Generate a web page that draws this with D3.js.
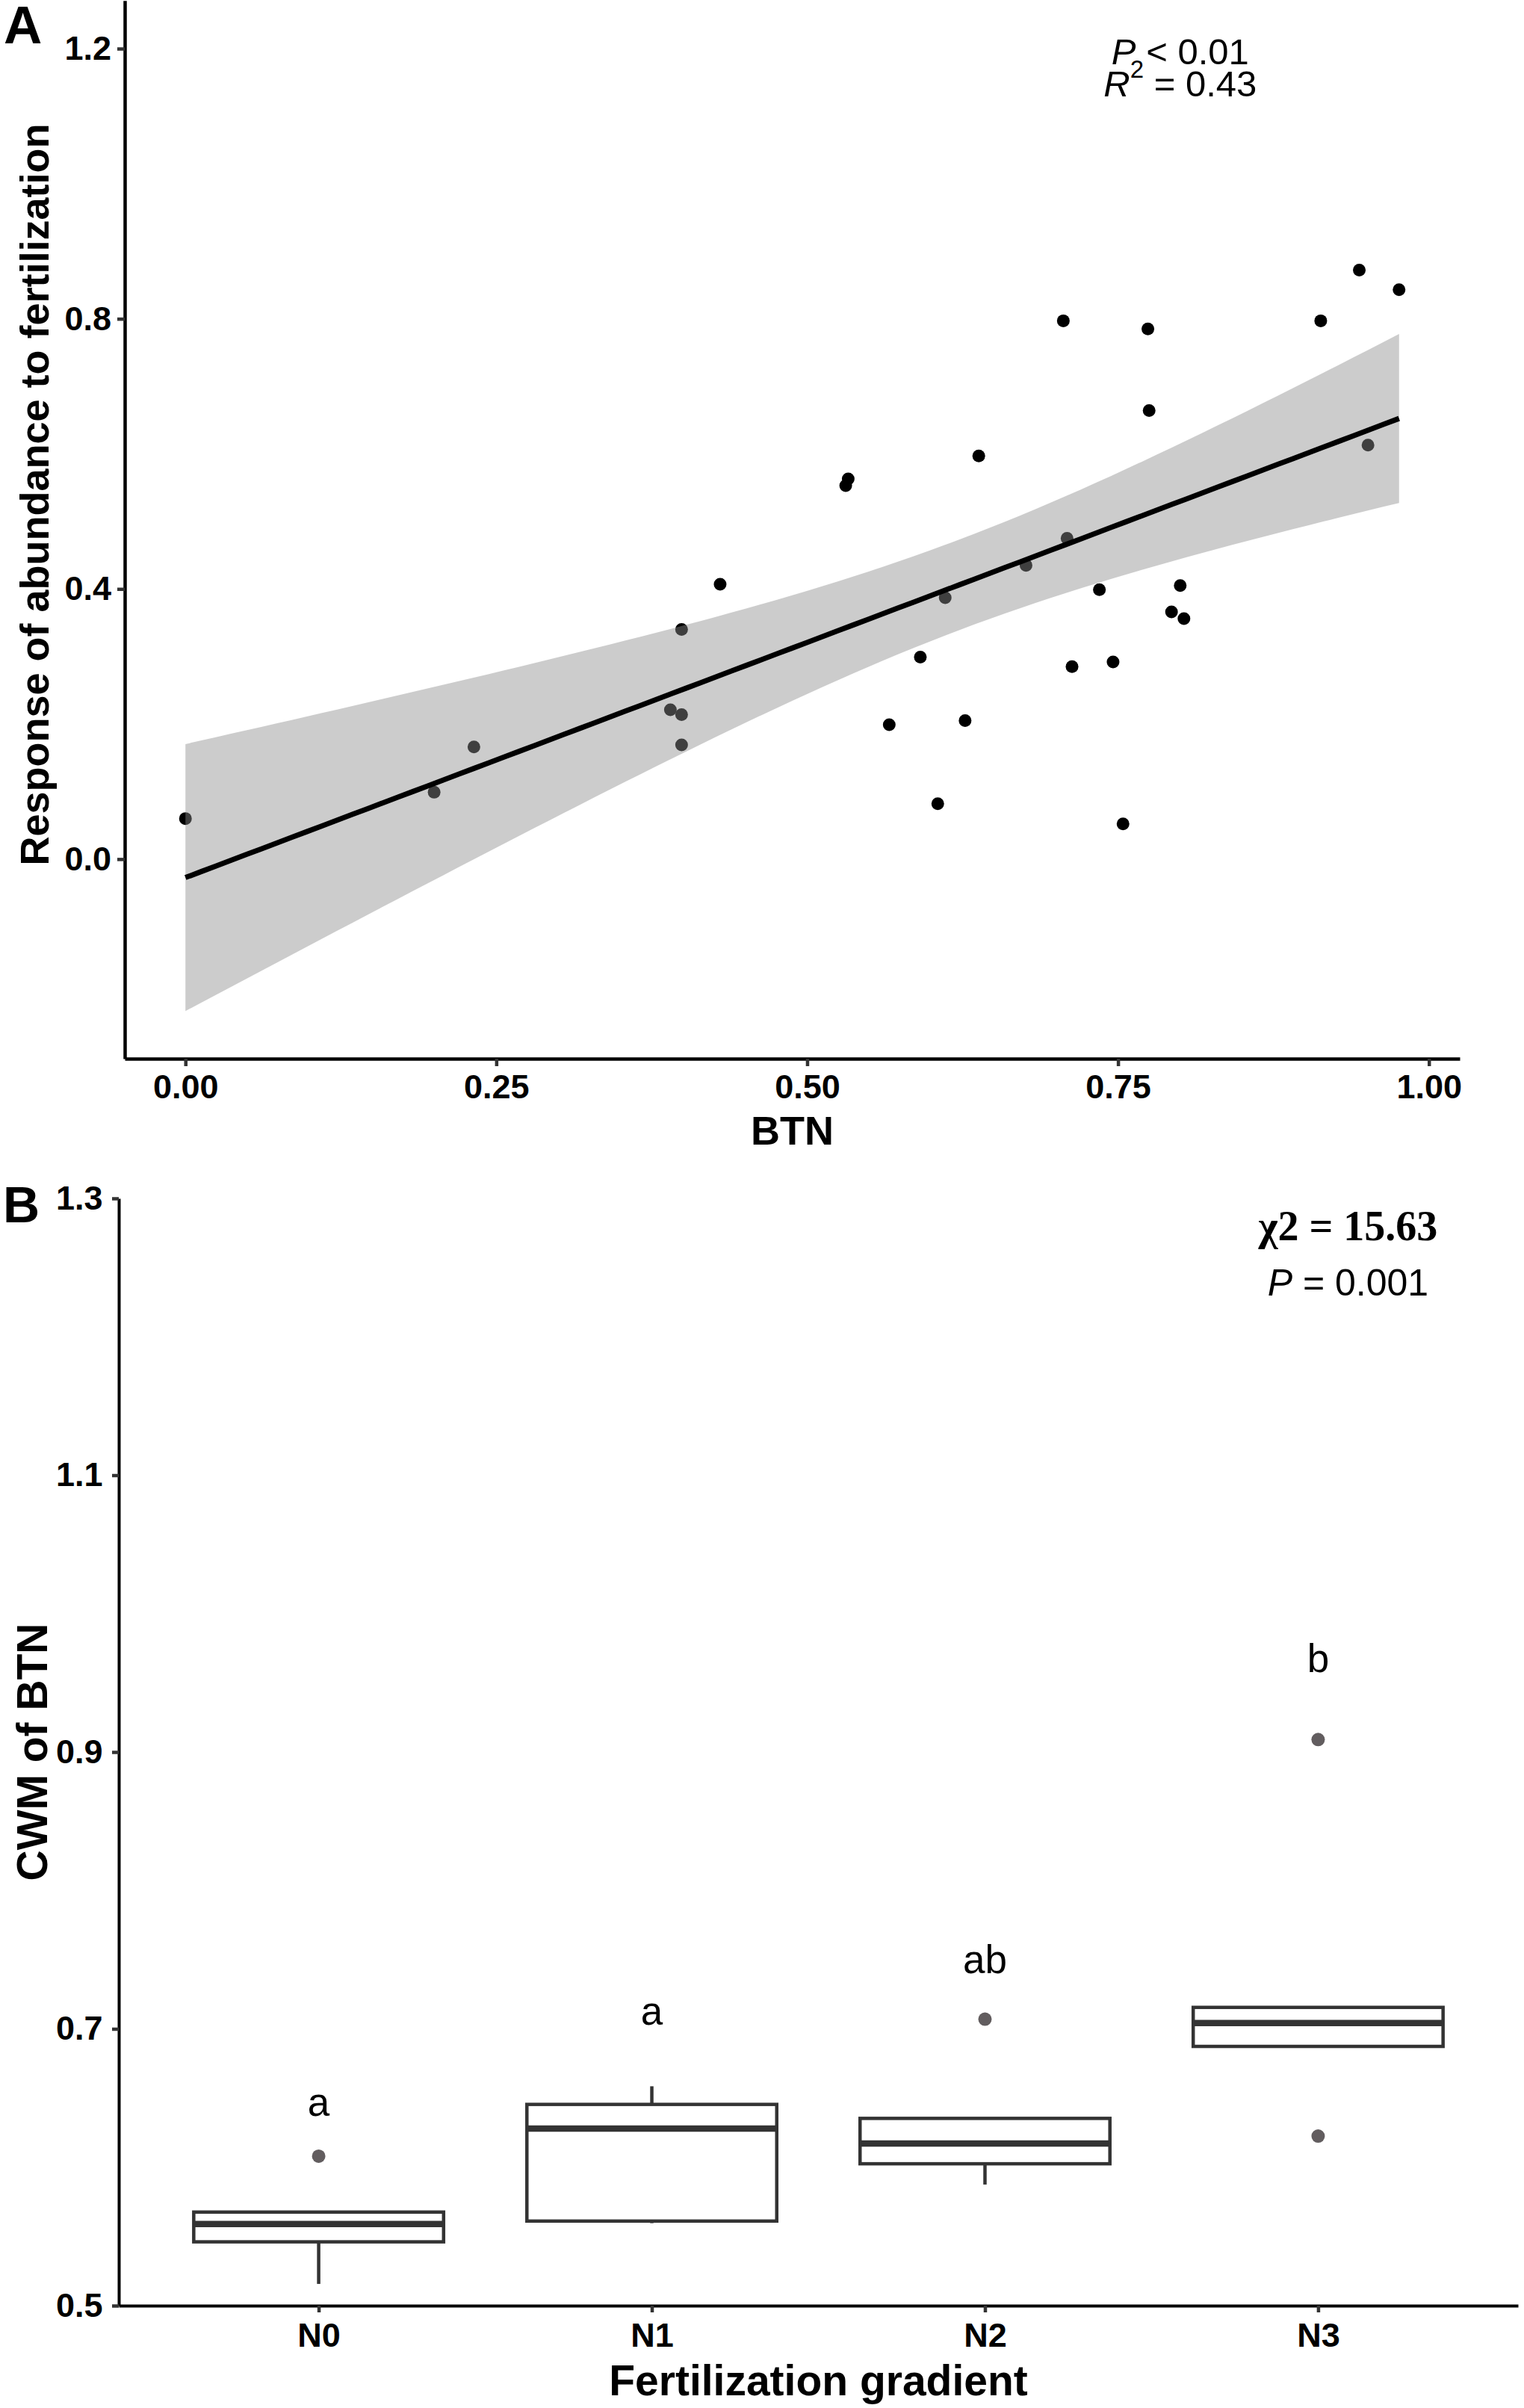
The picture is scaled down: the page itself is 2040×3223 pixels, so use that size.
<!DOCTYPE html>
<html>
<head>
<meta charset="utf-8">
<script src="https://cdn.jsdelivr.net/npm/d3@7"></script>
<style>
  html, body { margin: 0; padding: 0; background: #ffffff; }
  svg { display: block; }
</style>
</head>
<body>
<svg id="chart" width="2040" height="3223"></svg>
<script>
// ---------------- Panel A data ----------------
const btn = [0.000, 0.200, 0.232, 0.390, 0.399, 0.399, 0.399, 0.430,
             0.531, 0.533, 0.566, 0.591, 0.605, 0.611, 0.627, 0.638,
             0.676, 0.706, 0.709, 0.713, 0.735, 0.746, 0.754, 0.774,
             0.775, 0.793, 0.800, 0.803, 0.913, 0.944, 0.951, 0.976];
const response = [0.060, 0.099, 0.166, 0.221, 0.214, 0.169, 0.340, 0.407,
                  0.553, 0.563, 0.199, 0.299, 0.082, 0.387, 0.205, 0.597,
                  0.435, 0.797, 0.475, 0.285, 0.399, 0.292, 0.052, 0.785,
                  0.664, 0.366, 0.405, 0.356, 0.797, 0.872, 0.613, 0.843];
const xTicksA = [0, 0.25, 0.5, 0.75, 1.0];
const yTicksA = [0.0, 0.4, 0.8, 1.2];
const statsA = { p: "< 0.01", r2: "0.43", x: 0.8, y: 1.2 };

// ---------------- Panel B data ----------------
const groups = ["N0", "N1", "N2", "N3"];
const whiskerLow  = [0.5157, 0.5596, 0.5875, 0.6873];
const q1          = [0.5461, 0.5611, 0.6025, 0.6873];
const median      = [0.5590, 0.6279, 0.6171, 0.7042];
const q3          = [0.5676, 0.6454, 0.6353, 0.7155];
const whiskerHigh = [0.5676, 0.6585, 0.6353, 0.7155];
const outliers    = [[0.608], [], [0.707], [0.6225, 0.909]];
const letters     = ["a", "a", "ab", "b"];
const letterY     = [0.637, 0.703, 0.740, 0.958];
const yTicksB = [0.5, 0.7, 0.9, 1.1, 1.3];
const statsB = { chi: "15.63", p: "0.001" };

const svg = d3.select("#chart");
svg.append("rect").attr("width", 2040).attr("height", 3223).attr("fill", "#ffffff");
const SANS = "'Liberation Sans', Arial, Helvetica, sans-serif";
const SERIF = "'Liberation Serif', 'Times New Roman', serif";

// ================= Panel A =================
const xA = d3.scaleLinear().domain([-0.0488, 1.0248]).range([167, 1954]);
const yA = d3.scaleLinear().domain([-0.2955, 1.2712]).range([1417, 0.7]);

// linear regression with 95% CI (as ggplot geom_smooth(method="lm"))
const n = btn.length;
const mx = d3.mean(btn), my = d3.mean(response);
let sxx = 0, sxy = 0;
for (let i = 0; i < n; i++) { sxx += (btn[i]-mx)**2; sxy += (btn[i]-mx)*(response[i]-my); }
const slope = sxy / sxx, intercept = my - slope * mx;
let sse = 0;
for (let i = 0; i < n; i++) { sse += (response[i] - (intercept + slope*btn[i]))**2; }
const s = Math.sqrt(sse / (n - 2));
const tq = 2.0423; // qt(0.975, 30)
const [xmin, xmax] = d3.extent(btn);
const band = d3.range(0, 81).map(k => {
  const xv = xmin + (xmax - xmin) * k / 80;
  const fit = intercept + slope * xv;
  const se = s * Math.sqrt(1/n + (xv-mx)**2 / sxx);
  return { x: xv, fit, lo: fit - tq*se, hi: fit + tq*se };
});

const gA = svg.append("g");
// points
gA.selectAll("circle.pt").data(btn.map((b, i) => [b, response[i]])).join("circle")
  .attr("class", "pt")
  .attr("cx", d => xA(d[0])).attr("cy", d => yA(d[1])).attr("r", 8.5)
  .attr("fill", "#000000");
// ribbon
gA.append("path").datum(band)
  .attr("d", d3.area().x(d => xA(d.x)).y0(d => yA(d.lo)).y1(d => yA(d.hi)))
  .attr("fill", "rgb(141,141,141)").attr("fill-opacity", 0.447);
// fitted line
gA.append("path").datum(band)
  .attr("d", d3.line().x(d => xA(d.x)).y(d => yA(d.fit)))
  .attr("fill", "none").attr("stroke", "#000000").attr("stroke-width", 7);

// axes A
const axA_x = gA.append("g").attr("transform", "translate(0,1417)")
  .call(d3.axisBottom(xA).tickValues(xTicksA).tickFormat(d3.format(".2f")).tickSize(10).tickPadding(11).tickSizeOuter(0));
const axA_y = gA.append("g").attr("transform", "translate(167,0)")
  .call(d3.axisLeft(yA).tickValues(yTicksA).tickFormat(d3.format(".1f")).tickSize(10).tickPadding(8).tickSizeOuter(0));
[axA_x, axA_y].forEach(ax => {
  ax.select(".domain").attr("stroke", "#000000").attr("stroke-width", 4.5);
  ax.selectAll(".tick line").attr("stroke", "#333333").attr("stroke-width", 4.5);
  ax.selectAll(".tick text").attr("fill", "#000000").attr("font-family", SANS)
    .attr("font-weight", "bold").attr("font-size", 45);
});

// annotation A
const ax0 = xA(statsA.x), ay0 = yA(statsA.y);
const t1 = gA.append("text").attr("x", ax0).attr("y", ay0 + 21).attr("text-anchor", "middle")
  .attr("font-family", SANS).attr("font-size", 49).attr("fill", "#000");
t1.append("tspan").attr("font-style", "italic").text("P");
t1.append("tspan").text(" " + statsA.p);
const t2 = gA.append("text").attr("x", ax0).attr("y", ay0 + 64).attr("text-anchor", "middle")
  .attr("font-family", SANS).attr("font-size", 49).attr("fill", "#000");
t2.append("tspan").attr("font-style", "italic").text("R");
t2.append("tspan").attr("font-size", 33).attr("dy", -25).text("2");
t2.append("tspan").attr("dy", 25).text(" = " + statsA.r2);

// titles A
svg.append("text").attr("x", 5).attr("y", 58).attr("font-family", SANS).attr("font-weight", "bold")
  .attr("font-size", 71).attr("fill", "#000").text("A");
svg.append("text").attr("x", (167 + 1954) / 2).attr("y", 1532).attr("text-anchor", "middle")
  .attr("font-family", SANS).attr("font-weight", "bold").attr("font-size", 54).attr("fill", "#000").text("BTN");
svg.append("text").attr("transform", "translate(65,662) rotate(-90)").attr("text-anchor", "middle")
  .attr("font-family", SANS).attr("font-weight", "bold").attr("font-size", 54).attr("fill", "#000")
  .text("Response of abundance to fertilization");

// ================= Panel B =================
const xB = d3.scalePoint().domain(groups).range([159, 2032]).padding(0.6);
const yB = d3.scaleLinear().domain([0.5, 1.3]).range([3086, 1604]);
const boxW = xB.step() * 0.75;
const gB = svg.append("g");

groups.forEach((g, i) => {
  const cx = xB(g);
  // whiskers
  gB.append("line").attr("x1", cx).attr("x2", cx).attr("y1", yB(q3[i])).attr("y2", yB(whiskerHigh[i]))
    .attr("stroke", "#333333").attr("stroke-width", 4.5);
  gB.append("line").attr("x1", cx).attr("x2", cx).attr("y1", yB(q1[i])).attr("y2", yB(whiskerLow[i]))
    .attr("stroke", "#333333").attr("stroke-width", 4.5);
  // box
  gB.append("rect").attr("x", cx - boxW/2).attr("width", boxW)
    .attr("y", yB(q3[i])).attr("height", yB(q1[i]) - yB(q3[i]))
    .attr("fill", "#ffffff").attr("stroke", "#333333").attr("stroke-width", 4.5);
  // median
  gB.append("line").attr("x1", cx - boxW/2).attr("x2", cx + boxW/2)
    .attr("y1", yB(median[i])).attr("y2", yB(median[i]))
    .attr("stroke", "#333333").attr("stroke-width", 8.5);
  // outliers
  gB.selectAll(null).data(outliers[i]).join("circle")
    .attr("cx", cx).attr("cy", d => yB(d)).attr("r", 9).attr("fill", "#625d5f");
  // letters
  gB.append("text").attr("x", cx).attr("y", yB(letterY[i])).attr("text-anchor", "middle")
    .attr("font-family", SANS).attr("font-size", 53).attr("fill", "#000").text(letters[i]);
});

const axB_x = gB.append("g").attr("transform", "translate(0,3086)")
  .call(d3.axisBottom(xB).tickSize(9).tickPadding(14).tickSizeOuter(0));
const axB_y = gB.append("g").attr("transform", "translate(159,0)")
  .call(d3.axisLeft(yB).tickValues(yTicksB).tickFormat(d3.format(".1f")).tickSize(9).tickPadding(12.5).tickSizeOuter(0));
[axB_x, axB_y].forEach(ax => {
  ax.select(".domain").attr("stroke", "#000000").attr("stroke-width", 4);
  ax.selectAll(".tick line").attr("stroke", "#333333").attr("stroke-width", 4.5);
  ax.selectAll(".tick text").attr("fill", "#000000").attr("font-family", SANS)
    .attr("font-weight", "bold").attr("font-size", 45);
});

// annotation B
const bx0 = xB("N3") + 40;
const c1 = gB.append("text").attr("x", bx0).attr("y", 1660).attr("text-anchor", "middle")
  .attr("font-family", SERIF).attr("font-weight", "bold").attr("font-size", 56).attr("fill", "#000");
c1.text("\u03C72 = " + statsB.chi);
const c2 = gB.append("text").attr("x", bx0).attr("y", 1734).attr("text-anchor", "middle")
  .attr("font-family", SANS).attr("font-size", 50).attr("fill", "#000");
c2.append("tspan").attr("font-style", "italic").text("P");
c2.append("tspan").text(" = " + statsB.p);

// titles B
svg.append("text").attr("x", 4).attr("y", 1636).attr("font-family", SANS).attr("font-weight", "bold")
  .attr("font-size", 68).attr("fill", "#000").text("B");
svg.append("text").attr("x", (159 + 2032) / 2).attr("y", 3206).attr("text-anchor", "middle")
  .attr("font-family", SANS).attr("font-weight", "bold").attr("font-size", 57).attr("fill", "#000")
  .text("Fertilization gradient");
svg.append("text").attr("transform", "translate(63,2345) rotate(-90)").attr("text-anchor", "middle")
  .attr("font-family", SANS).attr("font-weight", "bold").attr("font-size", 57).attr("fill", "#000")
  .text("CWM of BTN");
</script>
</body>
</html>
